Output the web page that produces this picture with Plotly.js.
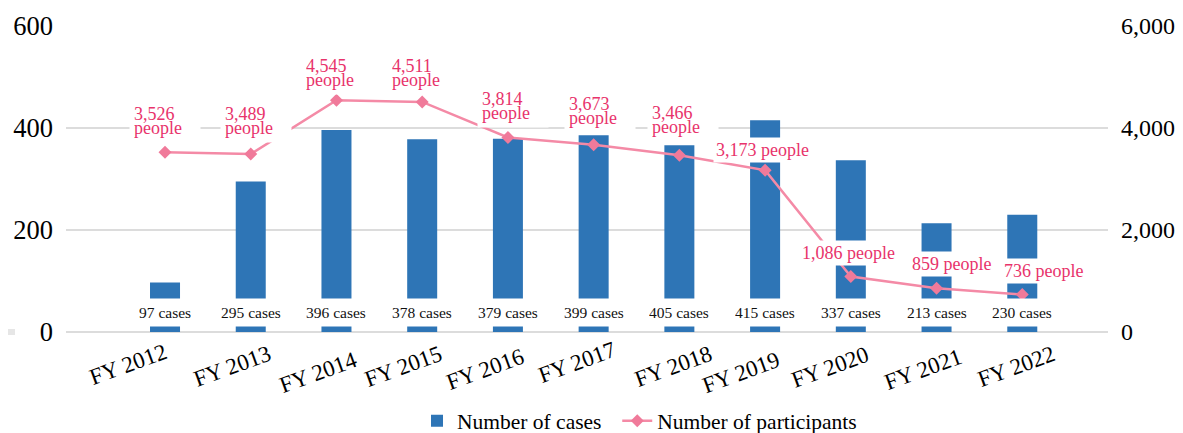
<!DOCTYPE html>
<html>
<head>
<meta charset="utf-8">
<script src="https://cdn.plot.ly/plotly-3.0.1.min.js"></script>
<style>
  html, body { margin: 0; padding: 0; background: #ffffff; }
  #chart { width: 1183px; height: 433px; }
</style>
</head>
<body>
<div id="chart"></div>
<script>
// ---- data ----
const years = ['FY 2012', 'FY 2013', 'FY 2014', 'FY 2015', 'FY 2016', 'FY 2017',
               'FY 2018', 'FY 2019', 'FY 2020', 'FY 2021', 'FY 2022'];
// bar heights as drawn in the picture
const casesBars = [97, 295, 396, 378, 379, 386, 366, 415, 337, 213, 230];
// values printed under the bars
const casesLabels = [97, 295, 396, 378, 379, 399, 405, 415, 337, 213, 230];
const participants = [3526, 3489, 4545, 4511, 3814, 3673, 3466, 3173, 1086, 859, 736];
const seriesNames = ['Number of cases', 'Number of participants'];

// ---- label placement (pixels) ----
// pink labels, relative to each marker
const peopleLabelPlacement = [
  { twoLine: true,  dx: -31.7, up: 32.0 },
  { twoLine: true,  dx: -26.7, up: 34.3 },
  { twoLine: true,  dx: -31.7, up: 28.4 },
  { twoLine: true,  dx: -31.0, up: 30.0 },
  { twoLine: true,  dx: -26.6, up: 32.3 },
  { twoLine: true,  dx: -25.7, up: 34.3 },
  { twoLine: true,  dx: -28.0, up: 36.0 },
  { twoLine: false, dx: -3.0,  up: 14.3 },
  { twoLine: false, dx: -2.0,  up: 17.6 },
  { twoLine: false, dx: 15.0,  up: 18.4 },
  { twoLine: false, dx: 21.0,  up: 17.4 }
];
// rotated category labels: centre offset from category centre / below the axis
const yearLabelPlacement = [
  { dx: -37.0, down: 32.3 }, { dx: -19.1, down: 34.0 }, { dx: -18.2, down: 40.7 },
  { dx: -19.0, down: 34.0 }, { dx: -23.1, down: 37.3 }, { dx: -16.9, down: 30.7 },
  { dx: -6.3,  down: 34.0 }, { dx: -23.7, down: 40.7 }, { dx: -21.2, down: 35.7 },
  { dx: -13.7, down: 37.3 }, { dx: -6.0,  down: 34.0 }
];

const FONT = 'Liberation Serif';
const BLUE = '#2e75b6';
const PINK_LINE = '#f48aa6';
const PINK_MARK = '#f07a9a';
const PINK_TEXT = '#e8336b';
const fmt = v => v.toLocaleString('en-US');

const traces = [
  {
    type: 'bar',
    name: seriesNames[0] + '\u00a0\u00a0',
    x: years,
    y: casesBars,
    width: 0.35,
    marker: { color: BLUE },
    hoverinfo: 'x+y'
  },
  {
    type: 'scatter',
    mode: 'lines+markers',
    name: seriesNames[1],
    x: years,
    y: participants,
    yaxis: 'y2',
    line: { color: PINK_LINE, width: 2.5 },
    marker: { symbol: 'diamond', size: 10, color: PINK_MARK }
  }
];

const annotations = [];
const PEOPLE_SIZE = 18;
const LINE_STEP = 14;                       // px between the two baselines
const centerOffset = 0.337 * PEOPLE_SIZE;  // baseline -> text-box centre

participants.forEach((p, i) => {
  const pl = peopleLabelPlacement[i];
  const base = { x: years[i], y: p, xref: 'x', yref: 'y2', showarrow: false,
                 bgcolor: '#ffffff' };
  if (pl.twoLine) {
    const sp = s => '<span style="font-size:' + PEOPLE_SIZE + 'px">' + s + '</span>';
    annotations.push(Object.assign({}, base, {
      text: sp(fmt(p)) + '<br>' + sp('people'),
      font: { family: FONT, size: LINE_STEP / 1.3, color: PINK_TEXT },
      xanchor: 'left', yanchor: 'middle', align: 'left',
      xshift: pl.dx - 4, yshift: pl.up - 1, borderpad: 4, width: 62
    }));
  } else {
    annotations.push(Object.assign({}, base, {
      text: fmt(p) + ' people',
      font: { family: FONT, size: PEOPLE_SIZE, color: PINK_TEXT },
      xanchor: 'center', yanchor: 'middle',
      xshift: pl.dx, yshift: pl.up + centerOffset, borderpad: 2
    }));
  }
});

casesLabels.forEach((c, i) => {
  annotations.push({
    x: years[i], y: 0.0637, xref: 'x', yref: 'paper', showarrow: false,
    text: c + ' cases', xanchor: 'center', yanchor: 'middle',
    height: 27, bgcolor: '#ffffff', borderpad: 0,
    font: { family: FONT, size: 15.5, color: '#111111' }
  });
});

years.forEach((yr, i) => {
  const yp = yearLabelPlacement[i];
  annotations.push({
    x: yr, y: 0, xref: 'x', yref: 'y', showarrow: false,
    text: yr, textangle: -20, xanchor: 'center', yanchor: 'middle',
    xshift: yp.dx, yshift: -yp.down,
    font: { family: FONT, size: 23, color: '#000000' }
  });
});

const layout = {
  width: 1183,
  height: 433,
  margin: { l: 66, r: 75, t: 26, b: 101, pad: 0, autoexpand: false },
  paper_bgcolor: '#ffffff',
  plot_bgcolor: '#ffffff',
  font: { family: FONT, color: '#000000' },
  showlegend: true,
  xaxis: {
    type: 'category',
    range: [-1.155, 11.0],
    showticklabels: false,
    showgrid: false,
    showline: false,
    zeroline: false,
    ticks: '',
    automargin: false,
    fixedrange: true
  },
  yaxis: {
    range: [0, 600],
    dtick: 200,
    tick0: 0,
    tickfont: { family: FONT, size: 26.5, color: '#000000' },
    gridcolor: '#dcdcdc',
    gridwidth: 2,
    zeroline: true,
    zerolinecolor: '#dcdcdc',
    zerolinewidth: 2,
    showline: false,
    ticks: '',
    ticklabelstandoff: 12,
    automargin: false,
    fixedrange: true
  },
  yaxis2: {
    overlaying: 'y',
    side: 'right',
    range: [0, 6000],
    dtick: 2000,
    tick0: 0,
    tickformat: ',d',
    tickfont: { family: FONT, size: 24, color: '#000000' },
    showgrid: false,
    zeroline: false,
    showline: false,
    ticks: '',
    ticklabelstandoff: 12,
    automargin: false,
    fixedrange: true
  },
  legend: {
    orientation: 'h',
    xref: 'container',
    yref: 'container',
    x: 0.3525,
    xanchor: 'left',
    y: 0.028,
    yanchor: 'middle',
    font: { family: FONT, size: 21.5, color: '#000000' },
    bgcolor: 'rgba(0,0,0,0)'
  },
  shapes: [
    { type: 'rect', xref: 'paper', yref: 'paper',
      x0: (8 - 66) / 1042, x1: (15 - 66) / 1042, y0: -0.0098, y1: 0.0098,
      fillcolor: '#e6e6e6', line: { width: 0 } }
  ],
  annotations: annotations
};

Plotly.newPlot('chart', traces, layout, { displayModeBar: false, staticPlot: true });
</script>
</body>
</html>
